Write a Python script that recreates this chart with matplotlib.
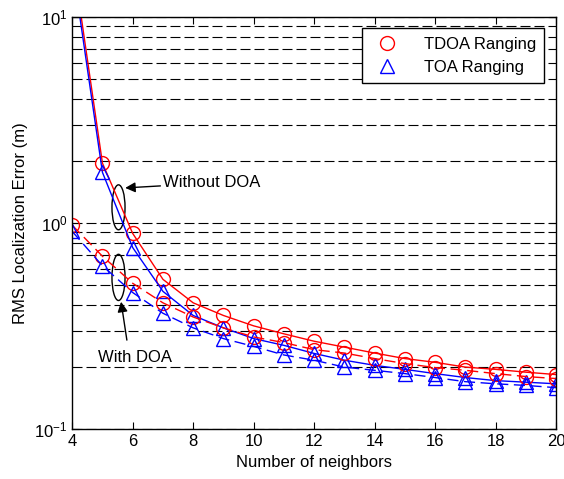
import matplotlib
matplotlib.use("Agg")
import matplotlib.pyplot as plt
from matplotlib.lines import Line2D
from matplotlib.patches import Ellipse
import numpy as np

plt.rcParams['font.family'] = ['Liberation Sans', 'DejaVu Sans']
plt.rcParams['mathtext.fontset'] = 'custom'
plt.rcParams['mathtext.rm'] = 'Liberation Sans'
plt.rcParams['axes.unicode_minus'] = False

neighbors = np.arange(4, 21)
tdoa_no_doa = [20.0, 1.95, 0.89, 0.533, 0.41, 0.356, 0.317, 0.29, 0.267, 0.25, 0.234,
               0.22, 0.211, 0.2, 0.195, 0.189, 0.184]
toa_no_doa = [18.0, 1.76, 0.76, 0.466, 0.356, 0.31, 0.275, 0.255, 0.233, 0.216, 0.204,
              0.195, 0.186, 0.178, 0.172, 0.169, 0.166]
tdoa_doa = [0.975, 0.69, 0.51, 0.41, 0.35, 0.31, 0.28, 0.263, 0.243, 0.234, 0.22,
            0.208, 0.199, 0.193, 0.186, 0.18, 0.176]
toa_doa = [0.91, 0.62, 0.46, 0.365, 0.31, 0.275, 0.252, 0.229, 0.216, 0.2, 0.193,
           0.186, 0.178, 0.17, 0.166, 0.163, 0.159]

fig = plt.figure(figsize=(5.64, 4.79), dpi=100)
ax = fig.add_axes([0.128, 0.104, 0.858, 0.861])

dash = (0, (8, 4))
ms = 10
fs = 12
ax.plot(neighbors, tdoa_no_doa, '-', color='red', lw=1, marker='o', ms=ms, mfc='none', mew=1)
ax.plot(neighbors, toa_no_doa, '-', color='blue', lw=1, marker='^', ms=ms, mfc='none', mew=1)
ax.plot(neighbors, tdoa_doa, linestyle=dash, color='red', lw=1, marker='o', ms=ms, mfc='none', mew=1)
ax.plot(neighbors, toa_doa, linestyle=dash, color='blue', lw=1, marker='^', ms=ms, mfc='none', mew=1)

ax.set_yscale('log')
ax.set_xlim(4, 20)
ax.set_ylim(0.1, 10)
ax.set_xticks(range(4, 21, 2))
ax.yaxis.grid(True, which='both', color='black', linestyle=(0, (9, 3.6)), lw=0.8)
ax.tick_params(which='both', direction='in', top=True, right=True, labelsize=fs)
ax.tick_params(which='major', length=5)
ax.tick_params(which='minor', length=3)
for s in ax.spines.values():
    s.set_linewidth(1.0)

ax.set_xlabel('Number of neighbors', fontsize=fs)
ax.set_ylabel('RMS Localization Error (m)', fontsize=fs)

# annotations
ax.add_patch(Ellipse((0.0957, 0.538), 0.027, 0.109, transform=ax.transAxes,
                     fill=False, ec='black', lw=1))
ax.add_patch(Ellipse((0.0957, 0.368), 0.027, 0.112, transform=ax.transAxes,
                     fill=False, ec='black', lw=1))
ax.annotate('Without DOA', xy=(0.1095, 0.585), xytext=(0.188, 0.597),
            xycoords='axes fraction', textcoords='axes fraction', fontsize=fs,
            va='center', ha='left',
            arrowprops=dict(arrowstyle='-|>', color='black', lw=1, mutation_scale=15,
                            shrinkA=0, shrinkB=0))
ax.annotate('', xy=(0.101, 0.309), xytext=(0.113, 0.216),
            xycoords='axes fraction', textcoords='axes fraction',
            arrowprops=dict(arrowstyle='-|>', color='black', lw=1, mutation_scale=15,
                            shrinkA=0, shrinkB=0))
ax.text(0.130, 0.175, 'With DOA', transform=ax.transAxes, fontsize=fs,
        ha='center', va='center')

handles = [Line2D([], [], color='red', marker='o', ms=ms, mfc='none', ls='none'),
           Line2D([], [], color='blue', marker='^', ms=ms, mfc='none', ls='none')]
leg = ax.legend(handles, ['TDOA Ranging', 'TOA Ranging'], loc='upper right',
                fontsize=fs, fancybox=False, framealpha=1, edgecolor='black',
                borderaxespad=0.7, handletextpad=1.2, borderpad=0.5)
leg.get_frame().set_linewidth(1)

fig.savefig('out.png', dpi=100)
